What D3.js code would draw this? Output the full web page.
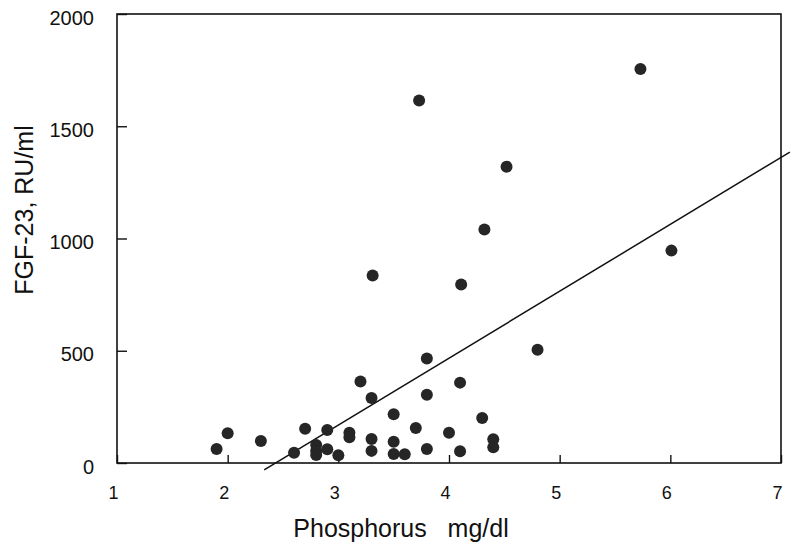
<!DOCTYPE html>
<html>
<head>
<meta charset="utf-8">
<script src="https://cdn.jsdelivr.net/npm/d3@7"></script>
<style>
  body { margin: 0; background: #fff; }
  text { font-family: "Liberation Sans", Arial, sans-serif; fill: #111; }
</style>
</head>
<body>
<figure id="scatter" style="margin:0"></figure>
<script>
// phosphorus (mg/dl) vs FGF-23 (RU/ml)
const phosphorus = [5.73, 3.73, 4.52, 4.32, 6.01, 3.31, 4.11, 4.80, 3.80, 3.20,
  4.10, 3.30, 3.80, 3.50, 4.30, 2.00, 2.70, 2.90, 3.10, 3.10,
  3.70, 4.00, 2.30, 1.90, 3.30, 3.30, 3.50, 3.50, 3.60, 3.80,
  4.10, 4.40, 4.40, 2.60, 2.80, 2.80, 2.80, 2.90, 3.00];
const fgf23 = [1755, 1615, 1320, 1040, 946, 835, 795, 504, 465, 363,
  358, 290, 304, 217, 200, 133, 153, 147, 135, 115,
  156, 135, 98, 62, 107, 54, 95, 40, 39, 62,
  52, 106, 70, 46, 80, 55, 36, 61, 34];

const xTicks = [1, 2, 3, 4, 5, 6, 7];
const yTicks = [0, 500, 1000, 1500, 2000];

// regression line
const fitSlope = 298;
const fitIntercept = -725;
const fitRange = [2.33, 7.08];

const width = 800, height = 550;

const svg = d3.select("figure#scatter")
  .append("svg")
  .attr("width", width)
  .attr("height", height);

const x = d3.scaleLinear().domain([1, 7]).range([117, 781]);
const y = d3.scaleLinear().domain([0, 2000]).range([463, 14]);

// frame
svg.append("rect")
  .attr("x", x(1))
  .attr("y", y(2000))
  .attr("width", x(7) - x(1))
  .attr("height", y(0) - y(2000))
  .attr("fill", "none")
  .attr("stroke", "#111")
  .attr("stroke-width", 1.6);

const xAxis = svg.append("g")
  .attr("transform", "translate(0," + y(0) + ")")
  .call(d3.axisBottom(x).tickValues(xTicks).tickFormat(d3.format("d")).tickSize(-8).tickPadding(23));
xAxis.select(".domain").remove();
xAxis.selectAll("line").attr("stroke", "#111").attr("stroke-width", 1.4);
xAxis.selectAll("text")
  .attr("font-size", 18)
  .attr("dx", -4)
  .style("font-family", "'Liberation Sans', Arial, sans-serif")
  .attr("fill", "#111");

const yAxis = svg.append("g")
  .attr("transform", "translate(" + x(1) + ",0)")
  .call(d3.axisLeft(y).tickValues(yTicks).tickFormat(d3.format("d")).tickSize(-10).tickPadding(23));
yAxis.select(".domain").remove();
yAxis.selectAll("line").attr("stroke", "#111").attr("stroke-width", 1.4);
yAxis.selectAll("text")
  .attr("font-size", 20)
  .attr("dy", "0.5em")
  .style("font-family", "'Liberation Sans', Arial, sans-serif")
  .attr("fill", "#111");

// fit line
svg.append("line")
  .attr("x1", x(fitRange[0]))
  .attr("y1", y(fitSlope * fitRange[0] + fitIntercept))
  .attr("x2", x(fitRange[1]))
  .attr("y2", y(fitSlope * fitRange[1] + fitIntercept))
  .attr("stroke", "#111")
  .attr("stroke-width", 1.5);

svg.selectAll("circle.pt")
  .data(phosphorus.map((p, i) => ({ p: p, f: fgf23[i] })))
  .enter()
  .append("circle")
  .attr("class", "pt")
  .attr("cx", d => x(d.p))
  .attr("cy", d => y(d.f))
  .attr("r", 6)
  .attr("fill", "#262626");

// axis titles
svg.append("text")
  .attr("x", 401)
  .attr("y", 537)
  .attr("text-anchor", "middle")
  .attr("font-size", 25)
  .style("white-space", "pre")
  .text("Phosphorus   mg/dl");

svg.append("text")
  .attr("transform", "translate(33,210) rotate(-90)")
  .attr("text-anchor", "middle")
  .attr("font-size", 25)
  .text("FGF-23, RU/ml");
</script>
</body>
</html>
